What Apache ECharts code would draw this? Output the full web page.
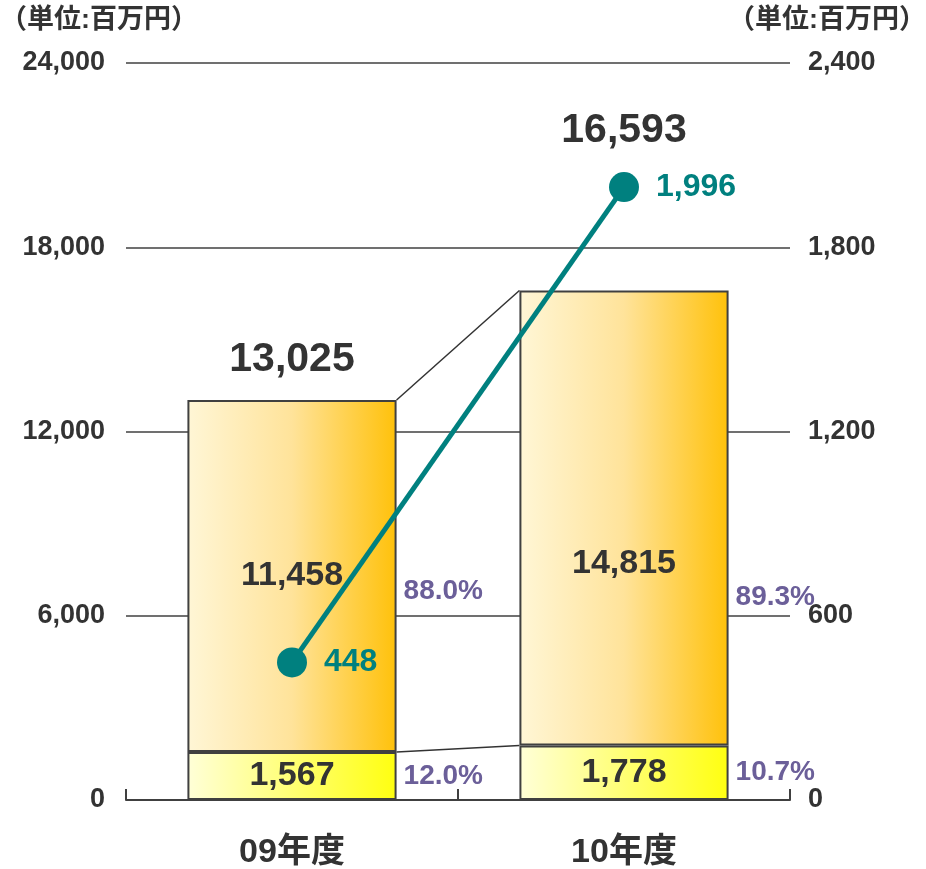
<!DOCTYPE html>
<html>
<head>
<meta charset="utf-8">
<script src="https://cdn.jsdelivr.net/npm/echarts@6/dist/echarts.min.js"></script>
<style>
html,body{margin:0;padding:0;background:#fff;}
#chart{width:926px;height:869px;}
</style>
</head>
<body>
<div id="chart"></div>
<script>
const categories = ['09年度', '10年度'];
const lowerValues = [1567, 1778];
const upperValues = [11458, 14815];
const totals = [13025, 16593];
const lineValues = [448, 1996];
const leftAxisMax = 24000;
const leftAxisInterval = 6000;
const rightAxisMax = 2400;
const rightAxisInterval = 600;
const unitLabel = '（単位:百万円）';

const FONT = "'Liberation Sans', Arial, 'Noto Sans CJK JP', sans-serif";
const DARK = '#333333';
const TEAL = '#00807F';
const PURPLE = '#6B5F99';
const BAR_RATIO = 0.63;

// style-only offsets (pixels) for label placement
const upperLabelOffsetY = [0, 46];
const totalLabelGap = [40, 160];
const upperPctOffsetY = [15, 79];

const fmt = v => v.toLocaleString('en-US');
const pct = (a, b) => (a / b * 100).toFixed(1) + '%';

const chart = echarts.init(document.getElementById('chart'));

const option = {
  animation: false,
  backgroundColor: '#ffffff',
  textStyle: { fontFamily: FONT },
  grid: { left: 126, right: 136, top: 63, bottom: 69, containLabel: false, outerBoundsMode: 'none' },
  graphic: [
    { type: 'text', left: 0, top: 7, style: { text: unitLabel, font: 'bold 27px ' + FONT, fill: DARK } },
    { type: 'text', right: 0, top: 7, style: { text: unitLabel, font: 'bold 27px ' + FONT, fill: DARK } }
  ],
  xAxis: {
    type: 'category',
    data: categories,
    boundaryGap: true,
    axisLine: { show: true, lineStyle: { color: '#404040', width: 2 } },
    axisTick: { show: true, inside: true, length: 11, alignWithLabel: false, lineStyle: { color: '#404040', width: 2 } },
    axisLabel: { margin: 36, color: DARK, fontWeight: 'bold', fontSize: 34, fontFamily: FONT }
  },
  yAxis: [
    {
      type: 'value', min: 0, max: leftAxisMax, interval: leftAxisInterval,
      axisLine: { show: false }, axisTick: { show: false },
      splitLine: { show: true, lineStyle: { color: '#404040', width: 1.5 } },
      axisLabel: { margin: 21, color: DARK, fontWeight: 'bold', fontSize: 27, fontFamily: FONT, formatter: v => fmt(v) }
    },
    {
      type: 'value', min: 0, max: rightAxisMax, interval: rightAxisInterval,
      axisLine: { show: false }, axisTick: { show: false },
      splitLine: { show: false },
      axisLabel: { margin: 18, color: DARK, fontWeight: 'bold', fontSize: 27, fontFamily: FONT, formatter: v => fmt(v) }
    }
  ],
  series: [
    {
      name: 'lower', type: 'bar', stack: 'total', barWidth: (BAR_RATIO * 100) + '%',
      data: lowerValues,
      itemStyle: {
        borderColor: '#404040', borderWidth: 2,
        color: new echarts.graphic.LinearGradient(0, 0, 1, 0, [
          { offset: 0, color: '#FFFFD8' }, { offset: 1, color: '#FFFF10' }
        ])
      },
      label: { show: true, position: 'inside', color: DARK, fontWeight: 'bold', fontSize: 34, fontFamily: FONT, formatter: p => fmt(p.value) }
    },
    {
      name: 'upper', type: 'bar', stack: 'total', barWidth: (BAR_RATIO * 100) + '%',
      data: upperValues.map((v, i) => ({ value: v, label: { offset: [0, upperLabelOffsetY[i]] } })),
      itemStyle: {
        borderColor: '#404040', borderWidth: 2,
        color: new echarts.graphic.LinearGradient(0, 0, 1, 0, [
          { offset: 0, color: '#FFF6D6' }, { offset: 0.5, color: '#FFE39A' }, { offset: 1, color: '#FFC10A' }
        ])
      },
      label: { show: true, position: 'inside', color: DARK, fontWeight: 'bold', fontSize: 34, fontFamily: FONT, formatter: p => fmt(p.value) }
    },
    {
      name: 'annotations', type: 'custom', coordinateSystem: 'cartesian2d', yAxisIndex: 0,
      data: categories.map((c, i) => [i, totals[i]]),
      encode: { x: 0, y: 1 },
      z: 3,
      silent: true,
      renderItem: function (params, api) {
        const i = params.dataIndex;
        const cx = api.coord([i, 0])[0];
        const band = api.size([1, 0])[0];
        const half = band * BAR_RATIO / 2;
        const yTop = api.coord([i, totals[i]])[1];
        const yLow = api.coord([i, lowerValues[i]])[1];
        const yBase = api.coord([i, 0])[1];
        const children = [];
        children.push({
          type: 'text',
          style: { x: cx, y: yTop - totalLabelGap[i], text: fmt(totals[i]), font: 'bold 41px ' + FONT, fill: DARK, align: 'center', verticalAlign: 'middle' }
        });
        children.push({
          type: 'text',
          style: { x: cx + half + 7, y: (yTop + yLow) / 2 + upperPctOffsetY[i], text: pct(upperValues[i], totals[i]), font: 'bold 28px ' + FONT, fill: PURPLE, align: 'left', verticalAlign: 'middle' }
        });
        children.push({
          type: 'text',
          style: { x: cx + half + 7, y: (yLow + yBase) / 2, text: pct(lowerValues[i], totals[i]), font: 'bold 28px ' + FONT, fill: PURPLE, align: 'left', verticalAlign: 'middle' }
        });
        if (i < categories.length - 1) {
          const nx = api.coord([i + 1, 0])[0];
          const nTop = api.coord([i + 1, totals[i + 1]])[1];
          const nLow = api.coord([i + 1, lowerValues[i + 1]])[1];
          children.push({
            type: 'line', shape: { x1: cx + half, y1: yTop, x2: nx - half, y2: nTop },
            style: { stroke: '#333333', lineWidth: 1.5 }
          });
          children.push({
            type: 'line', shape: { x1: cx + half, y1: yLow, x2: nx - half, y2: nLow },
            style: { stroke: '#333333', lineWidth: 1.5 }
          });
        }
        return { type: 'group', children: children };
      }
    },
    {
      name: 'line', type: 'line', yAxisIndex: 1,
      data: lineValues,
      z: 5,
      symbol: 'circle', symbolSize: 30,
      lineStyle: { color: TEAL, width: 5 },
      itemStyle: { color: TEAL },
      label: { show: true, position: 'right', distance: 17, color: TEAL, fontWeight: 'bold', fontSize: 32, fontFamily: FONT, formatter: p => fmt(p.value) }
    }
  ]
};

chart.setOption(option);
</script>
</body>
</html>
